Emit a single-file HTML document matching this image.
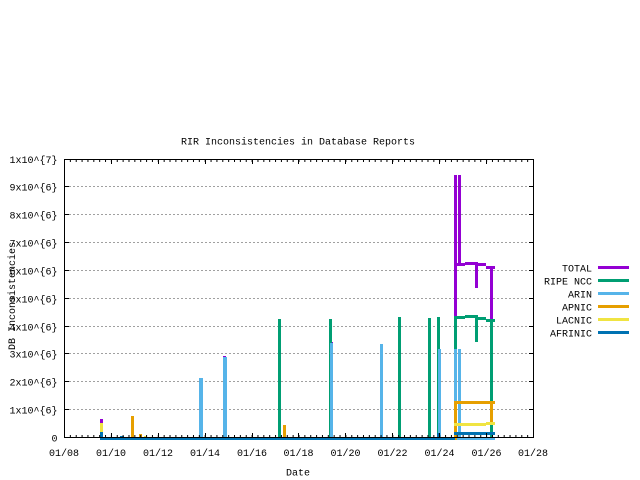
<!DOCTYPE html>
<html><head><meta charset="utf-8"><style>
html,body{margin:0;padding:0;background:#fff;}
svg{display:block;}
text{font-family:"Liberation Mono",monospace;font-size:10px;fill:#000;}
</style></head><body>
<svg width="640" height="480" viewBox="0 0 640 480" xmlns="http://www.w3.org/2000/svg">
<rect width="640" height="480" fill="#fff"/>
<!-- grid -->
<g stroke="#a0a0a0" stroke-width="1" stroke-dasharray="2,2" shape-rendering="crispEdges">
<line x1="65" y1="409.5" x2="533" y2="409.5"/>
<line x1="65" y1="381.5" x2="533" y2="381.5"/>
<line x1="65" y1="353.5" x2="533" y2="353.5"/>
<line x1="65" y1="326.5" x2="533" y2="326.5"/>
<line x1="65" y1="298.5" x2="533" y2="298.5"/>
<line x1="65" y1="270.5" x2="533" y2="270.5"/>
<line x1="65" y1="242.5" x2="533" y2="242.5"/>
<line x1="65" y1="214.5" x2="533" y2="214.5"/>
<line x1="65" y1="186.5" x2="533" y2="186.5"/>
</g>
<g shape-rendering="crispEdges">
<!-- TOTAL -->
<g fill="#9400d3">
<rect x="100" y="419" width="3" height="21"/>
<rect x="223" y="356" width="3" height="84"/>
<rect x="330" y="342" width="3" height="98"/>
<rect x="454" y="175" width="3" height="265"/>
<rect x="458" y="175" width="3" height="91"/>
<rect x="454" y="263" width="11" height="3"/>
<rect x="465" y="262" width="10" height="3"/>
<rect x="475" y="262" width="3" height="26"/>
<rect x="478" y="263" width="8" height="3"/>
<rect x="486" y="266" width="9" height="3"/>
<rect x="490" y="266" width="3" height="174"/>
</g>
<!-- RIPE NCC -->
<g fill="#009e73">
<rect x="278" y="319" width="3" height="121"/>
<rect x="329" y="319" width="3" height="121"/>
<rect x="398" y="317" width="3" height="123"/>
<rect x="428" y="318" width="3" height="122"/>
<rect x="437" y="317" width="3" height="123"/>
<rect x="454" y="316" width="3" height="124"/>
<rect x="454" y="316" width="11" height="3"/>
<rect x="465" y="315" width="10" height="3"/>
<rect x="475" y="315" width="3" height="27"/>
<rect x="478" y="317" width="8" height="3"/>
<rect x="486" y="319" width="9" height="3"/>
<rect x="490" y="319" width="3" height="121"/>
</g>
<!-- ARIN -->
<g fill="#56b4e9">
<rect x="199" y="378" width="4" height="62"/>
<rect x="223" y="357" width="4" height="83"/>
<rect x="330" y="343" width="3" height="97"/>
<rect x="380" y="344" width="3" height="96"/>
<rect x="438" y="349" width="3" height="91"/>
<rect x="454" y="349" width="3" height="91"/>
<rect x="458" y="349" width="3" height="91"/>
<rect x="457" y="437" width="38" height="3"/>
</g>
<!-- APNIC -->
<g fill="#e69f00">
<rect x="131" y="416" width="3" height="24"/>
<rect x="139" y="434" width="3" height="6"/>
<rect x="283" y="425" width="3" height="15"/>
<rect x="454" y="401" width="3" height="39"/>
<rect x="454" y="401" width="41" height="3"/>
<rect x="490" y="401" width="3" height="22"/>
</g>
<!-- LACNIC -->
<g fill="#f0e442">
<rect x="100" y="423" width="3" height="17"/>
<rect x="144" y="436" width="3" height="4"/>
<rect x="454" y="423" width="32" height="3"/>
<rect x="486" y="422" width="9" height="3"/>
</g>
<!-- AFRINIC -->
<g fill="#0072b2">
<rect x="100" y="432" width="3" height="8"/>
<rect x="120" y="436" width="4" height="4"/>
<rect x="437" y="433" width="3" height="7"/>
<rect x="100" y="437" width="355" height="3"/>
<rect x="454" y="432" width="41" height="3"/>
</g>
</g>
<!-- border -->
<rect x="64.5" y="159.5" width="469" height="278" fill="none" stroke="#000" stroke-width="1" shape-rendering="crispEdges"/>
<!-- minor x ticks -->
<line x1="64" y1="436" x2="534" y2="436" stroke="#000" stroke-width="2" stroke-dasharray="1,4.8625"/>
<line x1="64" y1="161" x2="534" y2="161" stroke="#000" stroke-width="2" stroke-dasharray="1,4.8625"/>
<g fill="#000" shape-rendering="crispEdges">
<!-- major x ticks bottom -->
<rect x="111" y="433" width="1" height="4"/><rect x="158" y="433" width="1" height="4"/>
<rect x="205" y="433" width="1" height="4"/><rect x="252" y="433" width="1" height="4"/>
<rect x="298" y="433" width="1" height="4"/><rect x="345" y="433" width="1" height="4"/>
<rect x="392" y="433" width="1" height="4"/><rect x="439" y="433" width="1" height="4"/>
<rect x="486" y="433" width="1" height="4"/>
<!-- major x ticks top -->
<rect x="111" y="160" width="1" height="4"/><rect x="158" y="160" width="1" height="4"/>
<rect x="205" y="160" width="1" height="4"/><rect x="252" y="160" width="1" height="4"/>
<rect x="298" y="160" width="1" height="4"/><rect x="345" y="160" width="1" height="4"/>
<rect x="392" y="160" width="1" height="4"/><rect x="439" y="160" width="1" height="4"/>
<rect x="486" y="160" width="1" height="4"/>
<!-- y ticks left -->
<rect x="65" y="409" width="4" height="1"/><rect x="65" y="381" width="4" height="1"/>
<rect x="65" y="353" width="4" height="1"/><rect x="65" y="326" width="4" height="1"/>
<rect x="65" y="298" width="4" height="1"/><rect x="65" y="270" width="4" height="1"/>
<rect x="65" y="242" width="4" height="1"/><rect x="65" y="214" width="4" height="1"/>
<rect x="65" y="186" width="4" height="1"/>
<!-- y ticks right -->
<rect x="529" y="409" width="4" height="1"/><rect x="529" y="381" width="4" height="1"/>
<rect x="529" y="353" width="4" height="1"/><rect x="529" y="326" width="4" height="1"/>
<rect x="529" y="298" width="4" height="1"/><rect x="529" y="270" width="4" height="1"/>
<rect x="529" y="242" width="4" height="1"/><rect x="529" y="214" width="4" height="1"/>
<rect x="529" y="186" width="4" height="1"/>
</g>
<!-- title -->
<text x="298" y="144.5" text-anchor="middle">RIR Inconsistencies in Database Reports</text>
<!-- y labels -->
<g text-anchor="end">
<text x="57.5" y="163">1x10^{7}</text>
<text x="57.5" y="190.5">9x10^{6}</text>
<text x="57.5" y="218.5">8x10^{6}</text>
<text x="57.5" y="246.5">7x10^{6}</text>
<text x="57.5" y="274.5">6x10^{6}</text>
<text x="57.5" y="302.5">5x10^{6}</text>
<text x="57.5" y="330.5">4x10^{6}</text>
<text x="57.5" y="357.5">3x10^{6}</text>
<text x="57.5" y="385.5">2x10^{6}</text>
<text x="57.5" y="413.5">1x10^{6}</text>
<text x="57.5" y="441.5">0</text>
</g>
<!-- x labels -->
<g text-anchor="middle">
<text x="64" y="456">01/08</text>
<text x="111" y="456">01/10</text>
<text x="158" y="456">01/12</text>
<text x="205" y="456">01/14</text>
<text x="252" y="456">01/16</text>
<text x="298.5" y="456">01/18</text>
<text x="345.5" y="456">01/20</text>
<text x="392.5" y="456">01/22</text>
<text x="439.5" y="456">01/24</text>
<text x="486.5" y="456">01/26</text>
<text x="533" y="456">01/28</text>
<text x="298" y="475.5">Date</text>
</g>
<!-- y axis label -->
<text transform="translate(15,296) rotate(-90)" text-anchor="middle">DB Inconsistencies</text>
<!-- legend -->
<g text-anchor="end">
<text x="592" y="271.5">TOTAL</text>
<text x="592" y="284.5">RIPE NCC</text>
<text x="592" y="297.5">ARIN</text>
<text x="592" y="310.5">APNIC</text>
<text x="592" y="323.5">LACNIC</text>
<text x="592" y="336.5">AFRINIC</text>
</g>
<g shape-rendering="crispEdges">
<rect x="598" y="266" width="31" height="3" fill="#9400d3"/>
<rect x="598" y="279" width="31" height="3" fill="#009e73"/>
<rect x="598" y="292" width="31" height="3" fill="#56b4e9"/>
<rect x="598" y="305" width="31" height="3" fill="#e69f00"/>
<rect x="598" y="318" width="31" height="3" fill="#f0e442"/>
<rect x="598" y="331" width="31" height="3" fill="#0072b2"/>
</g>
</svg>
</body></html>
